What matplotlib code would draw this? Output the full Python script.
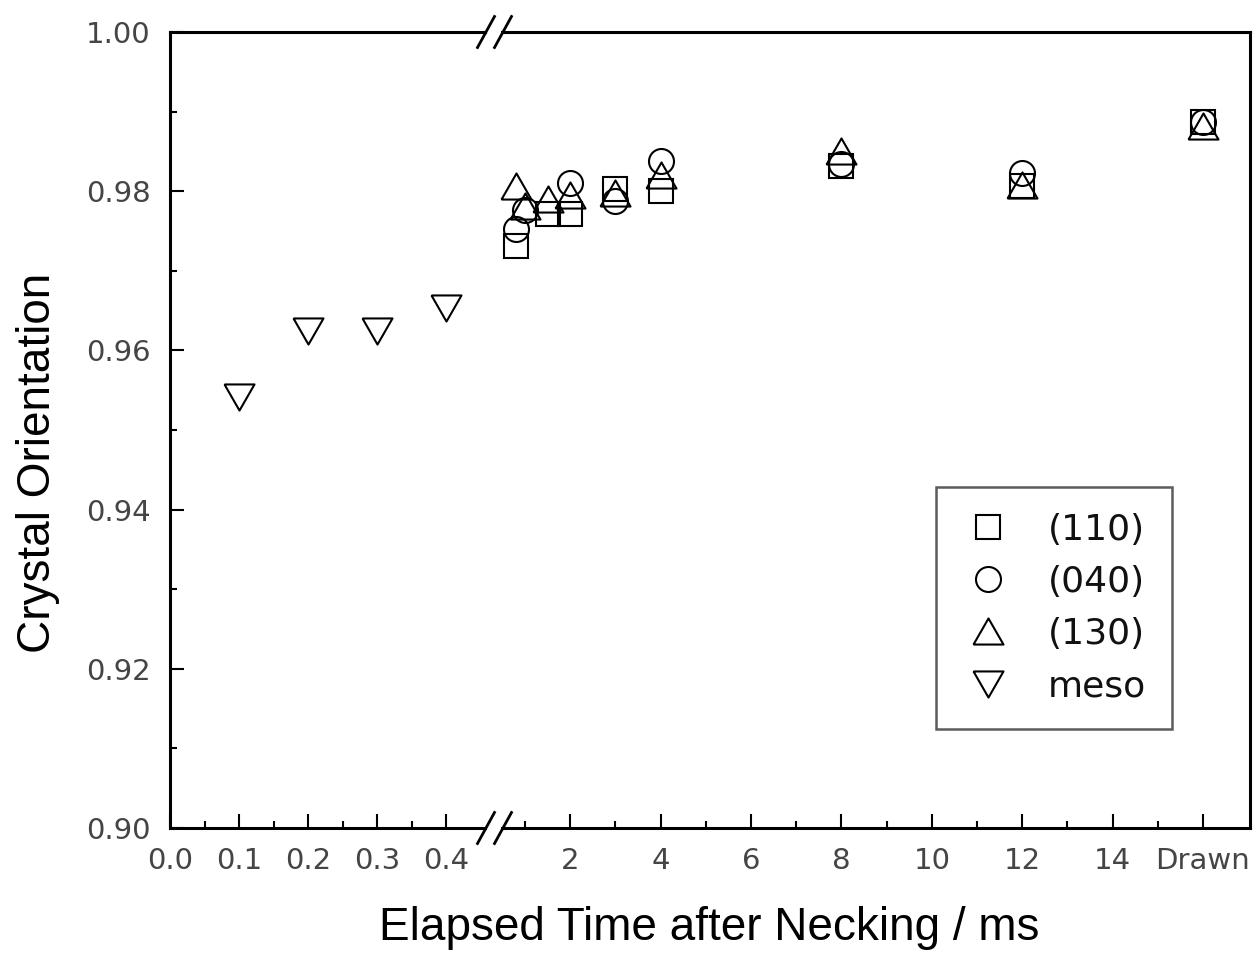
import matplotlib
matplotlib.use("Agg")
import matplotlib.pyplot as plt
from matplotlib.ticker import MultipleLocator, FixedLocator, FixedFormatter

# ---------------- data ----------------
meso_t = [0.1, 0.2, 0.3, 0.4]
meso_v = [0.9541, 0.9624, 0.9624, 0.9653]

t_110 = [0.8, 1.5, 2, 3, 4, 8, 12, 16]
v_110 = [0.9731, 0.9771, 0.9771, 0.9803, 0.9800, 0.9832, 0.9807, 0.9887]
t_040 = [0.8, 1.0, 2, 3, 4, 8, 12, 16]
v_040 = [0.9753, 0.9776, 0.9810, 0.9788, 0.9838, 0.9834, 0.9823, 0.9887]
t_130 = [0.8, 1.0, 1.5, 2, 3, 4, 8, 12, 16]
v_130 = [0.9807, 0.9781, 0.9790, 0.9795, 0.9798, 0.9820, 0.9851, 0.9808, 0.9882]

left_ticks = [0.0, 0.1, 0.2, 0.3, 0.4]
left_labels = ["0.0", "0.1", "0.2", "0.3", "0.4"]
right_ticks = [2, 4, 6, 8, 10, 12, 14, 16]
right_labels = ["2", "4", "6", "8", "10", "12", "14", "Drawn"]
y_ticks = [0.90, 0.92, 0.94, 0.96, 0.98, 1.00]
y_labels = ["0.90", "0.92", "0.94", "0.96", "0.98", "1.00"]

# ---------------- layout ----------------
W, H = 1255, 958
fig = plt.figure(figsize=(W / 100, H / 100), dpi=100)

x0, x1, x2, x3 = 170, 485, 502, 1250
ytop, ybot = 32, 828
axL = fig.add_axes([x0 / W, (H - ybot) / H, (x1 - x0) / W, (ybot - ytop) / H])
axR = fig.add_axes([x2 / W, (H - ybot) / H, (x3 - x2) / W, (ybot - ytop) / H])

axL.set_xlim(0.0, 0.4565)
axR.set_xlim(0.49, 17.04)
for ax in (axL, axR):
    ax.set_ylim(0.90, 1.00)
    for s in ax.spines.values():
        s.set_linewidth(2.2)
        s.set_color("black")
    ax.patch.set_alpha(0)

axL.spines["right"].set_visible(False)
axR.spines["left"].set_visible(False)

tick_color = "#454545"
tfam, tsize = "DejaVu Sans", 21

# left axes ticks
axL.xaxis.set_major_locator(FixedLocator(left_ticks))
axL.xaxis.set_major_formatter(FixedFormatter(left_labels))
axL.xaxis.set_minor_locator(FixedLocator([0.05, 0.15, 0.25, 0.35]))
axL.yaxis.set_major_locator(FixedLocator(y_ticks))
axL.yaxis.set_major_formatter(FixedFormatter(y_labels))
axL.yaxis.set_minor_locator(MultipleLocator(0.01))
axL.tick_params(which="both", direction="in", top=False, right=False, width=1.5, color="black")
axL.tick_params(which="major", length=10)
axL.tick_params(which="minor", length=5)
axL.tick_params(axis="x", which="major", pad=14, labelcolor=tick_color)
axL.tick_params(axis="y", which="major", pad=14, labelcolor=tick_color)

# right axes ticks
axR.xaxis.set_major_locator(FixedLocator(right_ticks))
axR.xaxis.set_major_formatter(FixedFormatter(right_labels))
axR.xaxis.set_minor_locator(FixedLocator([1, 3, 5, 7, 9, 11, 13, 15]))
axR.tick_params(which="both", direction="in", top=False, right=False, left=False,
                labelleft=False, width=1.5, color="black")
axR.tick_params(which="major", length=10)
axR.tick_params(which="minor", length=5)
axR.tick_params(axis="x", which="major", pad=14, labelcolor=tick_color)
axR.yaxis.set_major_locator(FixedLocator(y_ticks))
axR.yaxis.set_minor_locator(MultipleLocator(0.01))
axR.tick_params(axis="y", which="both", left=False, right=False, labelleft=False)

for lab in axL.get_xticklabels() + axL.get_yticklabels() + axR.get_xticklabels():
    lab.set_fontfamily(tfam)
    lab.set_fontsize(tsize)

# ---------------- data markers ----------------
tri_up = [(-1, -0.87), (1, -0.87), (0, 0.87), (-1, -0.87)]
tri_dn = [(-1, 0.87), (1, 0.87), (0, -0.87), (-1, 0.87)]

mk = dict(linestyle="none", markerfacecolor="none", markeredgecolor="black",
          markeredgewidth=1.5, clip_on=False)
h110, = axR.plot(t_110, v_110, marker="s", markersize=17, label="(110)", **mk)
h040, = axR.plot(t_040, v_040, marker="o", markersize=18, label="(040)", **mk)
h130, = axR.plot(t_130, v_130, marker=tri_up, markersize=21.6, label="(130)", **mk)
hmeso, = axL.plot(meso_t, meso_v, marker=tri_dn, markersize=21.6, label="meso", **mk)

# ---------------- break marks ----------------
def slash(xc, yc):
    fig.add_artist(plt.Line2D([(xc - 8.5) / W, (xc + 8.5) / W],
                              [(H - (yc + 15.5)) / H, (H - (yc - 15.5)) / H],
                              color="black", linewidth=2.0, transform=fig.transFigure))

for yc in (ytop, ybot):
    slash(486, yc)
    slash(503, yc)

# ---------------- labels ----------------
fig.text(38 / W, 1 - 463 / H, "Crystal Orientation", rotation=90, ha="center", va="center",
         fontsize=33, family="Liberation Sans", color="black")
fig.text(709 / W, 1 - 928 / H, "Elapsed Time after Necking / ms", ha="center", va="center",
         fontsize=33, family="Liberation Sans", color="black")

# ---------------- legend ----------------
leg = fig.legend(handles=[h110, h040, h130, hmeso], loc="upper left",
                 bbox_to_anchor=(936 / W, 1 - 487 / H), borderaxespad=0,
                 frameon=True, fancybox=False, edgecolor="#333333",
                 prop=dict(family="DejaVu Sans", size=26), handlelength=1.45,
                 handletextpad=0.92, labelspacing=0.5, borderpad=0.72,
                 markerscale=1.0)
leg.get_frame().set_linewidth(1.8)
for t in leg.get_texts():
    t.set_color("#111111")

fig.savefig("out.png", dpi=100)
